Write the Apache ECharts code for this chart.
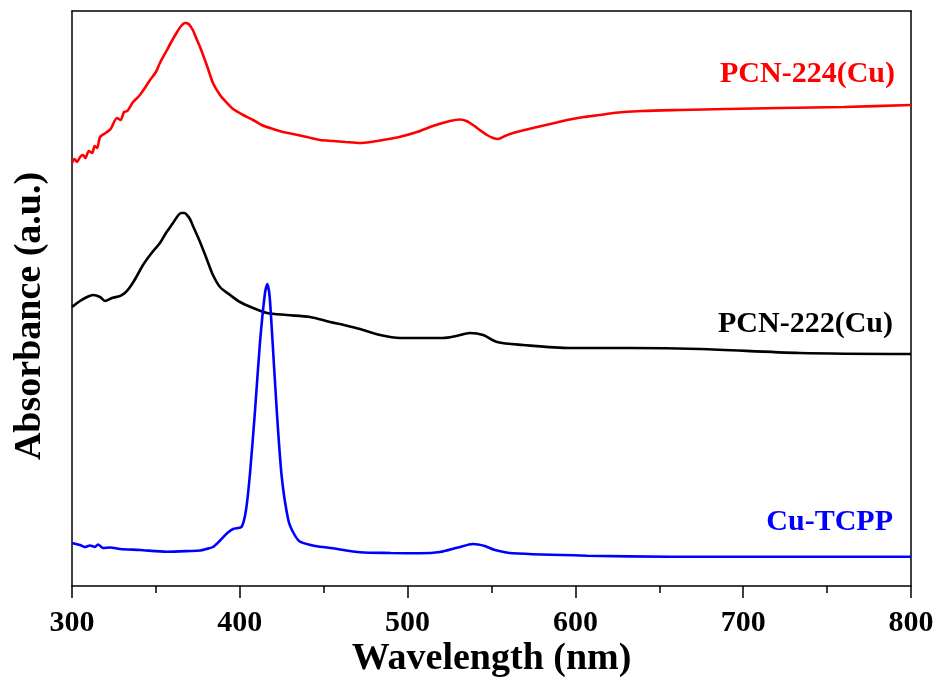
<!DOCTYPE html>
<html>
<head>
<meta charset="utf-8">
<title>UV-Vis absorbance spectra</title>
<script src="https://cdn.jsdelivr.net/npm/echarts@6/dist/echarts.min.js"></script>
<style>
  html, body { margin: 0; padding: 0; background: #fff; }
  #chart { width: 936px; height: 677px; }
</style>
</head>
<body>
<div id="chart"></div>
<script>
// Wavelength (nm) and absorbance (a.u., vertically offset traces)
const pcn224Wl = [300, 301.5, 303, 304.8, 306.5, 308, 310, 312, 313.5, 315, 316.7, 320, 323, 326.8, 329, 331, 333, 336.4, 340, 343, 346.5, 350, 352.4, 356.6, 359.5, 362.6, 365, 367.3, 369.5, 372, 374, 376.3, 380.5, 384, 388.2, 392.4, 396, 402, 407.9, 413, 419.8, 425.7, 431.7, 440, 447.8, 455.5, 463, 471.6, 478, 485.3, 495, 505.6, 515, 525.3, 531.2, 535, 539, 543, 547.3, 551, 553.9, 558, 562.8, 574.7, 585, 595, 605, 614.7, 622.4, 640, 662.3, 690, 721.9, 760, 800];
const pcn224Abs = [4.23, 4.27, 4.24, 4.29, 4.31, 4.28, 4.35, 4.33, 4.40, 4.38, 4.49, 4.53, 4.57, 4.68, 4.66, 4.74, 4.75, 4.84, 4.90, 4.97, 5.06, 5.14, 5.23, 5.36, 5.45, 5.54, 5.60, 5.63, 5.62, 5.56, 5.48, 5.39, 5.20, 5.03, 4.91, 4.83, 4.77, 4.71, 4.66, 4.61, 4.57, 4.54, 4.52, 4.49, 4.46, 4.45, 4.44, 4.43, 4.44, 4.46, 4.49, 4.54, 4.60, 4.65, 4.665, 4.65, 4.61, 4.56, 4.51, 4.48, 4.47, 4.50, 4.53, 4.58, 4.62, 4.66, 4.69, 4.71, 4.73, 4.75, 4.76, 4.77, 4.78, 4.79, 4.81];

const pcn222Wl = [300, 304.8, 309, 312.5, 316.7, 319.7, 323.8, 328.6, 331.5, 334.6, 338, 342.3, 347, 352.4, 356, 360.2, 363, 365, 367, 368.5, 370.3, 372.1, 376.3, 380.5, 384, 388.2, 394.2, 400.1, 407.9, 416.2, 428, 441.8, 453.8, 462, 471.6, 483.6, 495.5, 508, 521.1, 529, 537.2, 545, 553.3, 568.8, 596.8, 632.5, 674.3, 733.8, 800];
const pcn222Abs = [2.79, 2.85, 2.89, 2.91, 2.89, 2.85, 2.88, 2.90, 2.93, 2.99, 3.08, 3.21, 3.32, 3.43, 3.53, 3.63, 3.70, 3.73, 3.73, 3.71, 3.67, 3.60, 3.44, 3.26, 3.11, 2.99, 2.91, 2.84, 2.78, 2.73, 2.71, 2.69, 2.64, 2.61, 2.57, 2.51, 2.48, 2.48, 2.48, 2.50, 2.53, 2.51, 2.44, 2.41, 2.38, 2.38, 2.37, 2.33, 2.32];

const cuTcppWl = [300, 304.8, 307.7, 310.7, 313.7, 315.5, 318.5, 322.6, 328.6, 340.5, 356.6, 370.3, 376.3, 380, 384, 388, 392.4, 396, 401.1, 403.7, 406.1, 409.1, 412, 415, 416.4, 417.7, 419, 422, 425, 428.9, 432, 435.9, 445, 455.5, 471.6, 490, 507.4, 519.3, 530, 539, 546, 552.1, 562.8, 606.9, 656.4, 720, 800];
const cuTcppAbs = [0.43, 0.41, 0.39, 0.405, 0.39, 0.415, 0.38, 0.385, 0.37, 0.36, 0.343, 0.35, 0.355, 0.37, 0.39, 0.45, 0.527, 0.57, 0.593, 0.76, 1.13, 1.76, 2.43, 2.93, 3.02, 2.91, 2.59, 1.76, 1.09, 0.66, 0.53, 0.443, 0.40, 0.377, 0.337, 0.33, 0.327, 0.34, 0.385, 0.42, 0.40, 0.36, 0.327, 0.303, 0.293, 0.293, 0.293];

const xTicks = [300, 400, 500, 600, 700, 800];
const seriesNames = ['PCN-224(Cu)', 'PCN-222(Cu)', 'Cu-TCPP'];

const pairs = (xs, ys) => xs.map((x, i) => [x, ys[i]]);
const serif = '"Liberation Serif", "DejaVu Serif", serif';

const chart = echarts.init(document.getElementById('chart'), null, { renderer: 'canvas' });

chart.setOption({
  backgroundColor: '#ffffff',
  animation: false,
  grid: { left: 72, right: 25, top: 11, bottom: 91, containLabel: false, outerBoundsMode: 'none' },
  xAxis: [
    {
      type: 'value',
      min: xTicks[0],
      max: xTicks[xTicks.length - 1],
      interval: 100,
      name: 'Wavelength (nm)',
      nameLocation: 'middle',
      nameGap: 54,
      nameMoveOverlap: false,
      nameTextStyle: { fontFamily: serif, fontWeight: 'bold', fontSize: 38, color: '#000' },
      axisLine: { show: true, onZero: false, lineStyle: { color: '#000', width: 1.5 } },
      axisTick: { show: true, inside: false, length: 12, lineStyle: { color: '#000', width: 1.5 } },
      minorTick: { show: true, splitNumber: 2, length: 7, lineStyle: { color: '#000', width: 1.5 } },
      axisLabel: { margin: 22, fontFamily: serif, fontWeight: 'bold', fontSize: 30, color: '#000' },
      splitLine: { show: false }
    },
    {
      type: 'value',
      position: 'top',
      min: xTicks[0],
      max: xTicks[xTicks.length - 1],
      axisLine: { show: true, onZero: false, lineStyle: { color: '#000', width: 1.5 } },
      axisTick: { show: false },
      axisLabel: { show: false },
      splitLine: { show: false }
    }
  ],
  yAxis: [
    {
      type: 'value',
      min: 0,
      max: 5.75,
      axisLine: { show: true, onZero: false, lineStyle: { color: '#000', width: 1.5 } },
      axisTick: { show: false },
      axisLabel: { show: false },
      splitLine: { show: false }
    },
    {
      type: 'value',
      position: 'right',
      min: 0,
      max: 5.75,
      axisLine: { show: true, onZero: false, lineStyle: { color: '#000', width: 1.5 } },
      axisTick: { show: false },
      axisLabel: { show: false },
      splitLine: { show: false }
    }
  ],
  series: [
    {
      name: seriesNames[0],
      type: 'line',
      data: pairs(pcn224Wl, pcn224Abs),
      showSymbol: false,
      smooth: 0.25,
      lineStyle: { color: '#ff0000', width: 2.6 },
      z: 3
    },
    {
      name: seriesNames[1],
      type: 'line',
      data: pairs(pcn222Wl, pcn222Abs),
      showSymbol: false,
      smooth: 0.3,
      lineStyle: { color: '#000000', width: 2.6 },
      z: 3
    },
    {
      name: seriesNames[2],
      type: 'line',
      data: pairs(cuTcppWl, cuTcppAbs),
      showSymbol: false,
      smooth: 0.25,
      lineStyle: { color: '#0000ff', width: 2.6 },
      z: 4
    }
  ],
  graphic: [
    {
      // vertical axis title
      type: 'text', x: 30, y: 316, rotation: Math.PI / 2,
      style: { text: 'Absorbance (a.u.)', fill: '#000', font: 'bold 38px ' + serif, align: 'center', verticalAlign: 'middle' }
    },
    {
      type: 'text', right: 41, top: 59,
      style: { text: seriesNames[0], fill: '#ff0000', font: 'bold 30px ' + serif }
    },
    {
      type: 'text', right: 43, top: 309,
      style: { text: seriesNames[1], fill: '#000000', font: 'bold 30px ' + serif }
    },
    {
      type: 'text', right: 43, top: 507,
      style: { text: seriesNames[2], fill: '#0000ff', font: 'bold 30px ' + serif }
    }
  ]
});
</script>
</body>
</html>
